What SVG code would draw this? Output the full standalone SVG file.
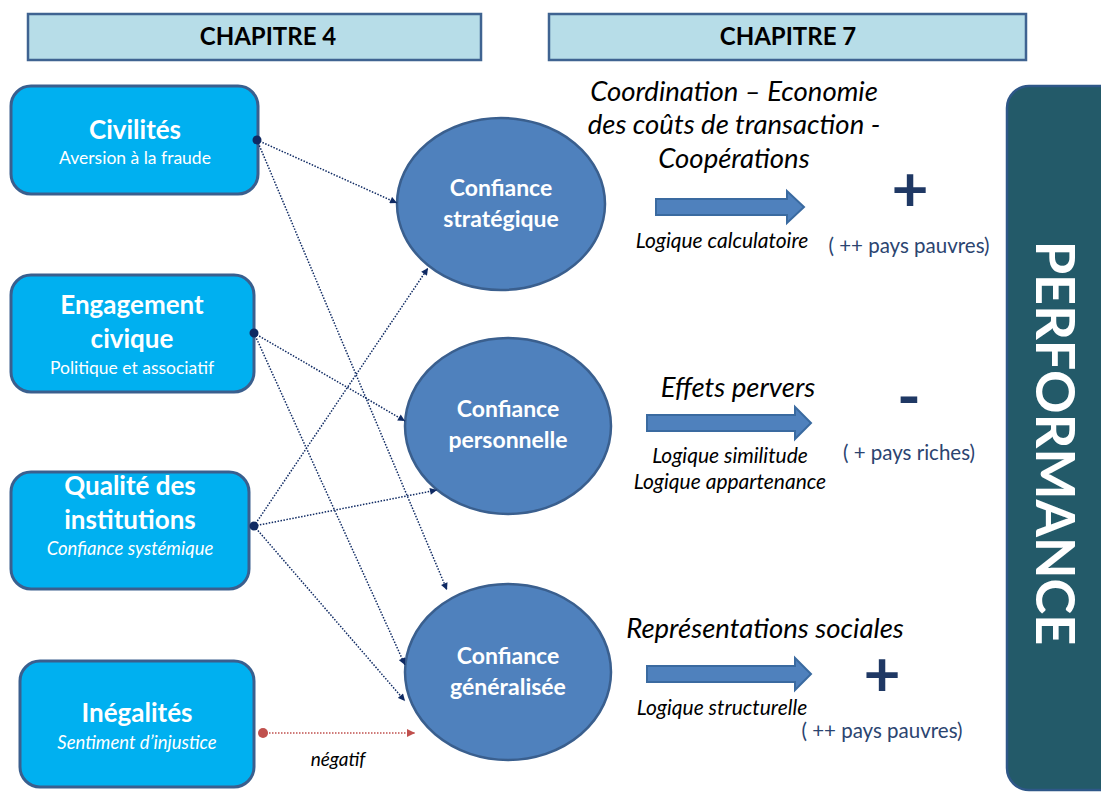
<svg xmlns="http://www.w3.org/2000/svg" width="1101" height="792" viewBox="0 0 1101 792">
<style>
.hdr{fill:#b7dde8;stroke:#3f6391;stroke-width:2.5}
.hdrt{font-family:Lato,"Liberation Sans",sans-serif;font-weight:bold;font-size:24px;fill:#000;text-anchor:middle}
.box{fill:#00b0f0;stroke:#3a5f8e;stroke-width:3}
.bt{font-family:Lato,"Liberation Sans",sans-serif;font-weight:bold;font-size:26px;fill:#fff;text-anchor:middle}
.bs{font-family:Lato,"Liberation Sans",sans-serif;font-size:17.5px;fill:#fff;text-anchor:middle}
.it{font-style:italic;font-size:18.5px}
.ell{fill:#4f81bd;stroke:#3a5f8e;stroke-width:2.5}
.et{font-family:Lato,"Liberation Sans",sans-serif;font-weight:bold;font-size:23px;fill:#fff;text-anchor:middle}
.con{fill:none;stroke:#0f2a63;stroke-width:1.5;stroke-dasharray:1.5 1.5}
.red{fill:none;stroke:#c0504d;stroke-width:1.5;stroke-dasharray:1.5 1.5}
.barr{fill:#4f81bd;stroke:#3a6aa0;stroke-width:2}
.big{font-family:Lato,"Liberation Sans",sans-serif;font-style:italic;font-size:27.5px;fill:#000;text-anchor:middle}
.sm{font-family:Lato,"Liberation Sans",sans-serif;font-style:italic;font-size:21px;fill:#000;text-anchor:middle}
.note{font-family:Lato,"Liberation Sans",sans-serif;font-size:20.5px;fill:#2b4470;text-anchor:middle}
.sign{font-family:Lato,"Liberation Sans",sans-serif;font-weight:bold;font-size:64px;fill:#1f3864;text-anchor:middle}
</style>
<defs>
<marker id="ah" viewBox="0 0 10 10" refX="10" refY="5" markerWidth="8" markerHeight="7" markerUnits="userSpaceOnUse" orient="auto">
<path d="M0,0 L10,5 L0,10 z" fill="#0f2a63"/>
</marker>
<marker id="ahr" viewBox="0 0 10 10" refX="10" refY="5" markerWidth="9" markerHeight="8" markerUnits="userSpaceOnUse" orient="auto">
<path d="M0,0 L10,5 L0,10 z" fill="#c0504d"/>
</marker>
</defs>
<rect width="1101" height="792" fill="#fff"/>

<g id="chapitre4">
<rect class="hdr" x="28" y="14" width="453" height="46"/>
<text class="hdrt" x="268" y="45">CHAPITRE 4</text>
</g>
<g id="chapitre7">
<rect class="hdr" x="549" y="14" width="477" height="46"/>
<text class="hdrt" x="788" y="45">CHAPITRE 7</text>
</g>

<g id="civilites">
<rect class="box" x="11" y="86" width="247" height="108" rx="20"/>
<text class="bt" x="135" y="139">Civilités</text>
<text class="bs" x="135" y="164">Aversion à la fraude</text>
</g>
<g id="engagement">
<rect class="box" x="11" y="275" width="243" height="117" rx="20"/>
<text class="bt" x="132" y="314">Engagement</text>
<text class="bt" x="132" y="348">civique</text>
<text class="bs" x="132" y="374">Politique et associatif</text>
</g>
<g id="qualite">
<rect class="box" x="11" y="472" width="238" height="117" rx="20"/>
<text class="bt" x="130" y="495">Qualité des</text>
<text class="bt" x="130" y="529">institutions</text>
<text class="bs it" x="130" y="555">Confiance systémique</text>
</g>
<g id="inegalites">
<rect class="box" x="20" y="661" width="234" height="126" rx="20"/>
<text class="bt" x="137" y="722">Inégalités</text>
<text class="bs it" x="137" y="749">Sentiment d’injustice</text>
</g>

<g id="strategique">
<ellipse class="ell" cx="501" cy="204" rx="104" ry="86"/>
<text class="et" x="501" y="196">Confiance</text>
<text class="et" x="501" y="227">stratégique</text>
</g>
<g id="personnelle">
<ellipse class="ell" cx="508" cy="426" rx="103" ry="88"/>
<text class="et" x="508" y="417">Confiance</text>
<text class="et" x="508" y="448">personnelle</text>
</g>
<g id="generalisee">
<ellipse class="ell" cx="508" cy="672" rx="103" ry="88"/>
<text class="et" x="508" y="664">Confiance</text>
<text class="et" x="508" y="695">généralisée</text>
</g>

<g id="connectors">
<path class="con" d="M257,140 L397,203" marker-end="url(#ah)"/>
<path class="con" d="M257,140 L447,590" marker-end="url(#ah)"/>
<path class="con" d="M254,333 L405,421" marker-end="url(#ah)"/>
<path class="con" d="M254,333 L405,665" marker-end="url(#ah)"/>
<path class="con" d="M254,526 L428,268" marker-end="url(#ah)"/>
<path class="con" d="M254,526 L437,490" marker-end="url(#ah)"/>
<path class="con" d="M254,526 L405,701" marker-end="url(#ah)"/>
<circle cx="257" cy="140" r="4.5" fill="#0f2a63"/>
<circle cx="254" cy="333" r="4.5" fill="#0f2a63"/>
<circle cx="254" cy="526" r="4.5" fill="#0f2a63"/>
<path class="red" d="M263,733 L415,733" marker-end="url(#ahr)"/>
<circle cx="263" cy="733" r="5" fill="#c0504d"/>
<text class="sm" x="338" y="766" style="font-size:19px">négatif</text>
</g>

<g id="logique-strategique">
<text class="big" x="734" y="101">Coordination – Economie</text>
<text class="big" x="734" y="134">des coûts de transaction -</text>
<text class="big" x="734" y="168">Coopérations</text>
<path class="barr" d="M656,199 L787,199 L787,191 L804,207 L787,223 L787,215 L656,215 z"/>
<text class="sm" x="722" y="248">Logique calculatoire</text>
<text class="sign" x="910" y="211">+</text>
<text class="note" x="909" y="253">( ++ pays pauvres)</text>
</g>
<g id="logique-personnelle">
<text class="big" x="738" y="397">Effets pervers</text>
<path class="barr" d="M647,415 L795,415 L795,407 L811,423 L795,439 L795,431 L647,431 z"/>
<text class="sm" x="730" y="463">Logique similitude</text>
<text class="sm" x="730" y="489">Logique appartenance</text>
<text class="sign" x="909" y="419">-</text>
<text class="note" x="909" y="460">( + pays riches)</text>
</g>
<g id="logique-generalisee">
<text class="big" x="765" y="638">Représentations sociales</text>
<path class="barr" d="M647,666 L795,666 L795,658 L811,674 L795,690 L795,682 L647,682 z"/>
<text class="sm" x="722" y="715">Logique structurelle</text>
<text class="sign" x="882" y="696">+</text>
<text class="note" x="882" y="738">( ++ pays pauvres)</text>
</g>

<g id="performance">
<rect x="1007" y="86" width="130" height="704" rx="22" fill="#235a69" stroke="#2e5788" stroke-width="2.5"/>
<text transform="translate(1036,443) rotate(90)" x="0" y="0" style="font-family:Lato,'Liberation Sans',sans-serif;font-weight:bold;font-size:54px;fill:#fff;text-anchor:middle">PERFORMANCE</text>
</g>
</svg>
